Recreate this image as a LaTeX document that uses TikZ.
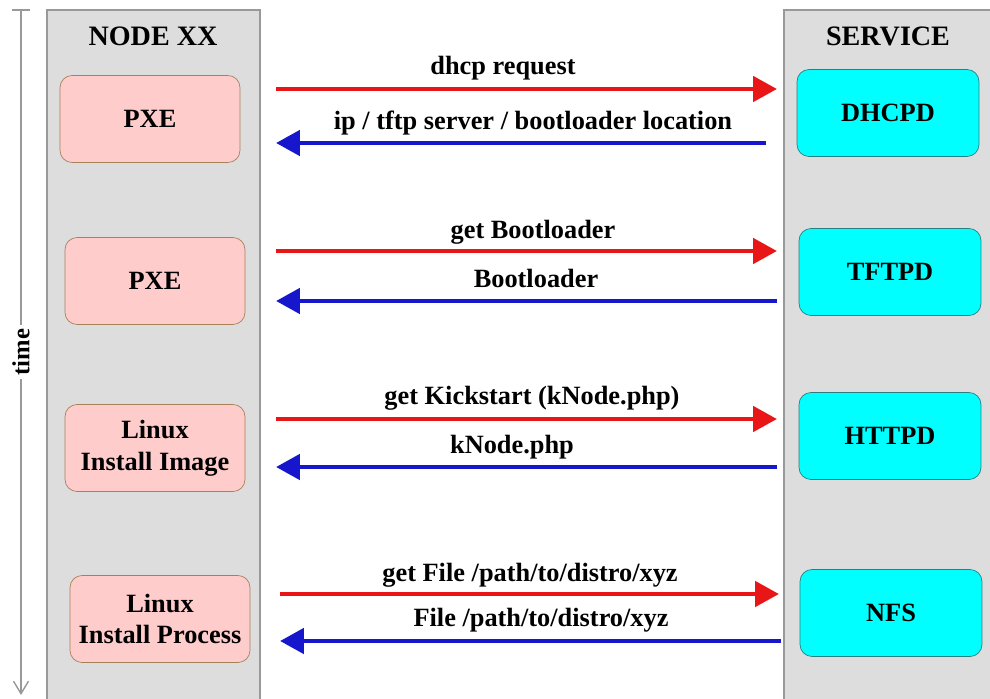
\documentclass[tikz,border=0pt]{standalone}
\usepackage{fontspec}
\setmainfont{Liberation Serif}
\usetikzlibrary{arrows.meta}

\definecolor{colgray}{RGB}{221,221,221}
\definecolor{pxepink}{RGB}{255,204,204}
\definecolor{srvcyan}{RGB}{0,255,255}
\definecolor{reqred}{RGB}{232,22,22}
\definecolor{ansblue}{RGB}{22,22,205}

\begin{document}
\begin{tikzpicture}[x=0.02cm, y=-0.02cm,
  column/.style={draw=gray!80, line width=0.8pt},
  client/.style={draw=brown!60!gray, fill=pxepink, rounded corners=0.24cm, minimum width=3.6cm, minimum height=1.74cm, align=center, font=\fontsize{15}{18}\selectfont\bfseries},
  server/.style={draw=teal!70!gray, fill=srvcyan, rounded corners=0.24cm, minimum width=3.64cm, minimum height=1.74cm, font=\fontsize{15}{18}\selectfont\bfseries},
  header/.style={font=\fontsize{16}{18}\selectfont\bfseries},
  msg/.style={font=\fontsize{15}{18}\selectfont\bfseries},
  req/.style={-{Triangle[length=0.48cm,width=0.5cm]}, color=reqred, line width=2.8pt},
  ans/.style={-{Triangle[length=0.48cm,width=0.5cm]}, color=ansblue, line width=2.8pt}]

  \useasboundingbox (0,0) rectangle (990,699);

  % Columns
  \fill[colgray] (47,10) rectangle (260,708);
  \fill[colgray] (784,10) rectangle (1000,708);
  \draw[column] (47,708) -- (47,10) -- (260,10) -- (260,708);
  \draw[column] (1000,10) -- (784,10) -- (784,708);
  \node[header] (hnode) at (153,36) {NODE XX};
  \node[header] (hsrv) at (888,36) {SERVICE};

  % Time axis
  \coordinate (t0) at (21,10);
  \coordinate (t1) at (21,695);
  \draw[gray!80, line width=0.8pt] (12,10) -- (30,10);
  \draw[gray!80, line width=0.8pt, -{Straight Barb[length=0.25cm,width=0.3cm]}] (t0) -- (t1);
  \node[fill=white, rotate=90, inner sep=2pt, font=\fontsize{14}{16}\selectfont\bfseries] (time) at (21,352) {time};

  % Client side
  \node[client] (pxe1) at (150,119) {PXE};
  \node[client] (pxe2) at (155,281) {PXE};
  \node[client] (img) at (155,448) {Linux\\Install Image};
  \node[client] (proc) at (160,619) {Linux\\Install Process};

  % Service side
  \node[server] (dhcpd) at (888,113) {DHCPD};
  \node[server] (tftpd) at (890,272) {TFTPD};
  \node[server] (httpd) at (890,436) {HTTPD};
  \node[server] (nfs) at (891,613) {NFS};

  % Arrow ends
  \coordinate (a1) at (276,89);  \coordinate (b1) at (777,89);
  \coordinate (c1) at (276,143); \coordinate (d1) at (766,143);
  \coordinate (a2) at (276,251); \coordinate (b2) at (777,251);
  \coordinate (c2) at (276,301); \coordinate (d2) at (777,301);
  \coordinate (a3) at (276,419); \coordinate (b3) at (777,419);
  \coordinate (c3) at (276,467); \coordinate (d3) at (777,467);
  \coordinate (a4) at (280,594); \coordinate (b4) at (779,594);
  \coordinate (c4) at (280,641); \coordinate (d4) at (781,641);

  % Requests and answers
  \draw[req] (a1) -- (b1);
  \draw[ans] (d1) -- (c1);
  \draw[req] (a2) -- (b2);
  \draw[ans] (d2) -- (c2);
  \draw[req] (a3) -- (b3);
  \draw[ans] (d3) -- (c3);
  \draw[req] (a4) -- (b4);
  \draw[ans] (d4) -- (c4);

  % Labels
  \node[msg] (l1) at (503,68) {dhcp request};
  \node[msg] (l2) at (533,123) {ip / tftp server / bootloader location};
  \node[msg] (l3) at (533,232) {get Bootloader};
  \node[msg] (l4) at (536,278) {Bootloader};
  \node[msg] (l5) at (532,398) {get Kickstart (kNode.php)};
  \node[msg] (l6) at (512,447) {kNode.php};
  \node[msg] (l7) at (530,575) {get File /path/to/distro/xyz};
  \node[msg] (l8) at (541,620) {File /path/to/distro/xyz};

\end{tikzpicture}
\end{document}
